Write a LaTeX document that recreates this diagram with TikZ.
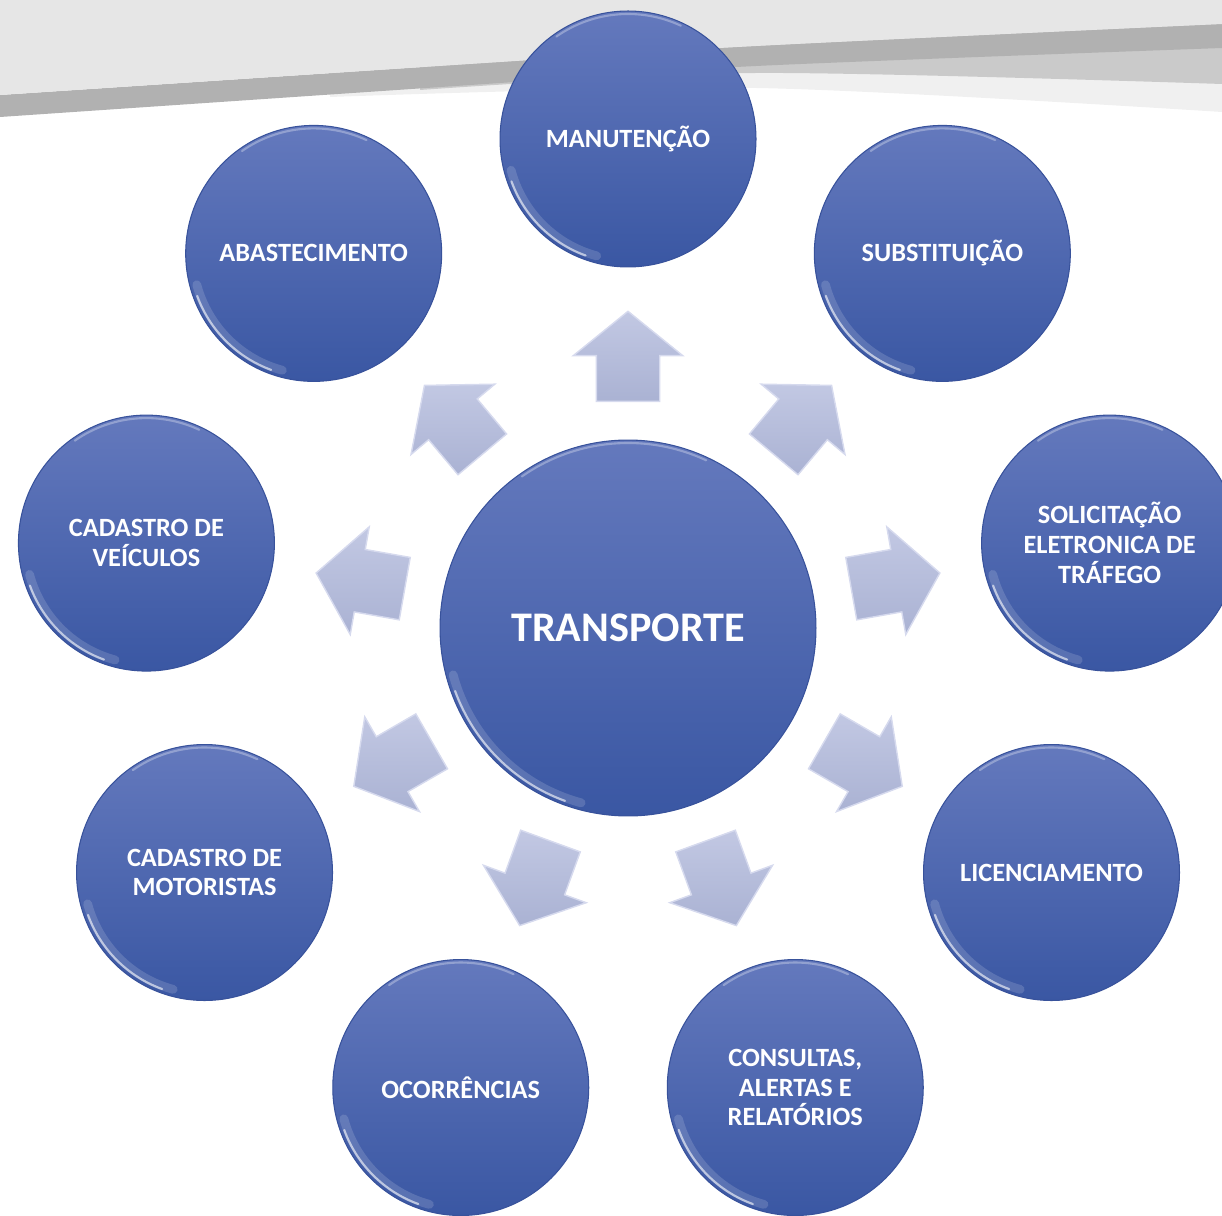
\documentclass[tikz,border=0pt]{standalone}
\usepackage{fontspec}
\setmainfont{Carlito}
\usepackage{tikz}
\usetikzlibrary{calc}
\usetikzlibrary{shapes.arrows}

\definecolor{ballTop}{RGB}{100,121,189}
\definecolor{ballBottom}{RGB}{58,87,163}
\definecolor{ballRim}{RGB}{56,82,155}
\definecolor{arrowLight}{RGB}{194,200,227}
\definecolor{arrowDark}{RGB}{170,178,211}
\definecolor{arrowEdge}{RGB}{214,218,238}
\definecolor{bgLight}{RGB}{230,230,230}
\definecolor{bgBand}{RGB}{177,177,177}
\definecolor{bgMid}{RGB}{202,202,202}
\definecolor{bgPale}{RGB}{240,240,240}

\tikzset{
  ball/.style={circle, draw=ballRim, line width=0.6pt, top color=ballTop, bottom color=ballBottom,
    text=white, align=center, inner sep=0pt, font=\bfseries\fontsize{15}{17}\selectfont},
  spoke/.style={single arrow, single arrow head extend=0.46cm, single arrow tip angle=102,
    single arrow head indent=0pt, minimum height=1.8cm, inner xsep=0pt, inner ysep=0.62cm,
    anchor=tail, top color=arrowLight, bottom color=arrowDark, draw=arrowEdge, line width=0.8pt},
  glow/.style={white, line cap=round, line width=5pt, opacity=0.15},
  gloss/.style={white, line cap=round, line width=1.2pt, opacity=0.6}
}

\begin{document}
\begin{tikzpicture}[x=0.02cm, y=0.02cm]
    % Size of the page, in pixels of the drawing
    \def\pageW{1222}
    \def\pageH{1215}
    \def\ring{489}   % distance hub -> outer balls
    \def\gap{226}    % distance hub -> tail of each arrow
    \useasboundingbox (0,0) rectangle (\pageW,\pageH);
    \clip (0,0) rectangle (\pageW,\pageH);

    % Grey swoosh across the top (y going down here)
    \begin{scope}[shift={(0,\pageH)}, yscale=-1]
        \fill[bgPale] plot[smooth] coordinates {(330,97) (756,88) (1222,112)} -- (1222,0) -- (330,0) -- cycle;
        \fill[bgMid] plot[smooth] coordinates {(420,90) (756,73) (1222,84)} -- (1222,0) -- (420,0) -- cycle;
        \fill[bgBand] plot[smooth] coordinates {(0,95) (500,62) (756,46) (1222,24)}
            -- plot[smooth] coordinates {(1222,48) (756,66) (500,83) (0,117)} -- cycle;
        \fill[bgLight] (0,0) -- (\pageW,0) -- plot[smooth] coordinates {(1222,24) (756,46) (500,62) (0,95)} -- cycle;
    \end{scope}

    % Centre ball
    \node[ball, minimum size=7.52cm, font=\bfseries\fontsize{24}{28}\selectfont] (hub) at (628,587) {TRANSPORTE};
    \draw[glow] ($(hub.center)+(195:181)$) arc[start angle=195, end angle=255, radius=3.62cm];
    \draw[gloss] ($(hub.center)+(200:184)$) arc[start angle=200, end angle=250, radius=3.68cm];
    \draw[gloss, opacity=0.3] ($(hub.center)+(65:185)$) arc[start angle=65, end angle=125, radius=3.7cm];

    % Outer balls and the arrows pointing at them
    \foreach \a/\n/\t in {90/manut/{MANUTENÇÃO},
                          50/subst/{SUBSTITUIÇÃO},
                          10/solic/{SOLICITAÇÃO\\ELETRONICA DE\\TRÁFEGO},
                          -30/licen/{LICENCIAMENTO},
                          -70/consul/{CONSULTAS,\\ALERTAS E\\RELATÓRIOS},
                          -110/ocorr/{OCORRÊNCIAS},
                          -150/motor/{CADASTRO DE\\MOTORISTAS},
                          170/veic/{CADASTRO DE\\VEÍCULOS},
                          130/abast/{ABASTECIMENTO}}
    {
        \node[ball, minimum size=5.12cm] (\n) at ($(hub)+(\a:\ring)$) {\t};
        \draw[glow] ($(\n.center)+(195:121)$) arc[start angle=195, end angle=255, radius=2.42cm];
        \draw[gloss] ($(\n.center)+(200:124)$) arc[start angle=200, end angle=250, radius=2.48cm];
        \draw[gloss, opacity=0.3] ($(\n.center)+(65:125)$) arc[start angle=65, end angle=125, radius=2.5cm];
        \node[spoke, rotate=\a] (arr\n) at ($(hub)+(\a:\gap)$) {};
    }
\end{tikzpicture}
\end{document}
